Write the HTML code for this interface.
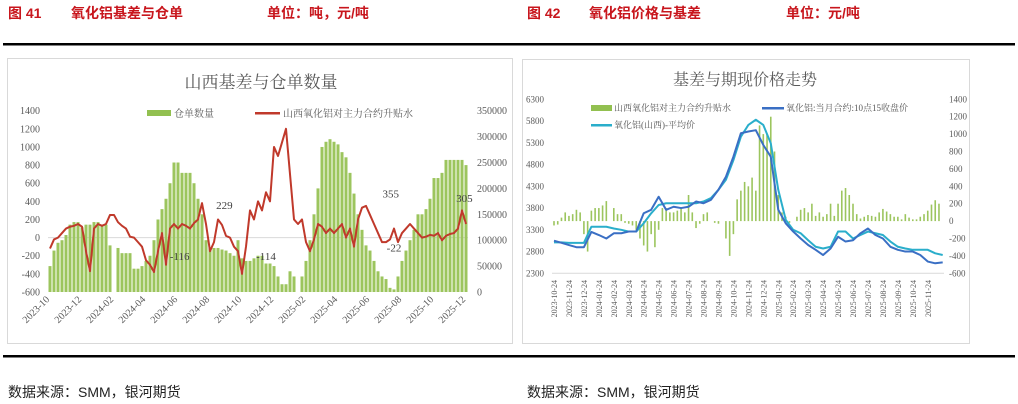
<!DOCTYPE html>
<html><head><meta charset="utf-8"><style>
body{margin:0;width:1018px;height:404px;background:#fff;overflow:hidden;font-family:"Liberation Sans","Noto Sans CJK SC",sans-serif}
svg{position:absolute;left:0;top:0}
</style></head><body>
<svg id="s" width="1018" height="404" viewBox="0 0 1018 404">
<g fill="#c8161d" font-weight="bold" font-size="14" font-family="Liberation Sans,Noto Sans CJK SC,sans-serif">
<text x="8" y="18">图 41</text><text x="71" y="18">氧化铝基差与仓单</text><text x="267" y="18">单位：吨，元/吨</text></g>
<g fill="#c8161d" font-weight="bold" font-size="14" font-family="Liberation Sans,Noto Sans CJK SC,sans-serif">
<text x="527" y="18">图 42</text><text x="589" y="18">氧化铝价格与基差</text><text x="786" y="18">单位：元/吨</text></g>
<rect x="3" y="43" width="1012" height="2.5" fill="#000"/>
<rect x="3" y="355" width="1012" height="2.5" fill="#000"/>
<text x="8" y="397" font-size="14" fill="#222">数据来源：SMM，银河期货</text>
<text x="527" y="397" font-size="14" fill="#222">数据来源：SMM，银河期货</text>
<rect x="7.5" y="58.5" width="505" height="285" fill="#fff" stroke="#d9d9d9"/>
<rect x="522.5" y="59.5" width="447" height="284" fill="#fff" stroke="#d9d9d9"/>
<text x="261" y="88" text-anchor="middle" font-size="17" fill="#595959" font-family="Liberation Serif,Noto Serif CJK SC,serif">山西基差与仓单数量</text>
<text x="745" y="85" text-anchor="middle" font-size="16" fill="#595959" font-family="Liberation Serif,Noto Serif CJK SC,serif">基差与期现价格走势</text>
<g font-size="10" fill="#595959" font-family="Liberation Serif,Noto Serif CJK SC,serif">
<rect x="147" y="110" width="24" height="6" fill="#92c050"/><text x="174" y="117">仓单数量</text>
<rect x="255" y="112" width="25" height="2.5" fill="#c0392b"/><text x="283" y="117">山西氧化铝对主力合约升贴水</text></g>
<g font-size="9" fill="#595959" font-family="Liberation Serif,Noto Serif CJK SC,serif">
<rect x="591" y="105" width="21" height="6" fill="#92c050"/><text x="614" y="111">山西氧化铝对主力合约升贴水</text>
<rect x="762" y="107" width="22" height="2.5" fill="#3a6fc4"/><text x="786" y="111">氧化铝:当月合约:10点15收盘价</text>
<rect x="591" y="124" width="21" height="2.5" fill="#2aaecb"/><text x="614" y="128">氧化铝(山西)-平均价</text></g>
<g id="c1"></g><g id="c2"></g>
</svg>
<script>
// ---- Chart 1 data (weekly, step 0.25 month from 2023-10) ----
const c1Ticks=["2023-10","2023-12","2024-02","2024-04","2024-06","2024-08","2024-10","2024-12","2025-02","2025-04","2025-06","2025-08","2025-10","2025-12"];
const c1Left=[1400,1200,1000,800,600,400,200,0,-200,-400,-600];
const c1Right=[350000,300000,250000,200000,150000,100000,50000,0];
const c1Basis=[-120,-20,0,50,100,120,130,150,120,-150,-370,100,150,130,150,250,250,170,130,100,10,0,-50,-100,-250,-300,-380,-150,50,-300,100,150,100,150,130,100,160,200,380,150,-150,-50,200,140,20,0,-100,-150,-400,-100,300,200,400,300,500,400,1000,900,1050,1200,700,200,150,200,-50,-150,-20,150,120,50,100,50,100,150,0,100,-100,200,330,350,250,150,50,-50,-50,-20,100,-50,50,100,150,100,50,0,10,30,20,50,-30,20,40,50,100,300,150];
const c1Stock=[50000,80000,95000,100000,110000,130000,135000,135000,125000,130000,130000,135000,135000,130000,130000,90000,0,85000,75000,75000,75000,45000,45000,50000,60000,70000,100000,140000,160000,180000,210000,250000,250000,230000,230000,230000,210000,180000,150000,100000,85000,85000,85000,82000,80000,75000,70000,100000,65000,60000,60000,65000,70000,70000,55000,55000,50000,30000,15000,15000,40000,30000,0,30000,60000,100000,150000,200000,280000,290000,295000,290000,285000,270000,260000,230000,190000,150000,120000,90000,80000,60000,40000,30000,25000,8000,5000,30000,60000,80000,100000,120000,150000,150000,160000,180000,220000,220000,230000,255000,255000,255000,255000,255000,245000];
const c1Notes=[["-116",8.1,-116],["229",10.9,229],["-114",13.5,-114],["355",21.3,355],["-22",21.5,-22],["305",25.9,305]];
// ---- Chart 2 data ----
const c2Ticks=["2023-10-24","2023-11-24","2023-12-24","2024-01-24","2024-02-24","2024-03-24","2024-04-24","2024-05-24","2024-06-24","2024-07-24","2024-08-24","2024-09-24","2024-10-24","2024-11-24","2024-12-24","2025-01-24","2025-02-24","2025-03-24","2025-04-24","2025-05-24","2025-06-24","2025-07-24","2025-08-24","2025-09-24","2025-10-24","2025-11-24"];
const c2Left=[6300,5800,5300,4800,4300,3800,3300,2800,2300];
const c2Right=[1400,1200,1000,800,600,400,200,0,-200,-400,-600];
const c2Futures=[3050,3000,2950,2900,2900,3250,3180,3100,3220,3220,3260,3260,3680,3760,4060,3760,3830,3800,3830,3950,3910,3990,4220,4520,4980,5520,5560,5590,5250,4980,3760,3450,3260,3100,2950,2840,2720,2870,3140,3030,3060,3220,3330,3180,3100,2910,2840,2800,2800,2720,2570,2530,2550];
const c2Spot=[3010,3010,3000,3000,3000,3370,3370,3370,3330,3300,3260,3260,3450,3680,3870,3910,3910,3910,3910,3910,3950,4030,4220,4450,4900,5440,5710,5830,5710,5290,4220,3530,3300,3220,3060,2910,2870,2910,3260,3260,3100,3180,3260,3220,3180,3030,2910,2870,2840,2840,2840,2760,2720];
const c2Basis=[-50,-40,40,100,60,80,130,100,-150,-350,120,150,150,180,230,0,150,80,80,-20,-30,-50,-100,-200,-280,-350,-150,-300,-100,150,150,100,100,120,150,100,300,100,-80,-30,80,100,0,-20,-30,0,-200,-400,-150,250,350,450,400,500,350,1100,1000,1000,1200,800,300,100,50,-20,0,50,130,150,100,200,60,100,50,80,200,60,200,350,380,300,200,80,30,50,70,60,50,100,140,110,80,50,50,20,80,40,20,20,50,80,120,190,240,200];

const NS='http://www.w3.org/2000/svg';
function mk(p,t,a){const e=document.createElementNS(NS,t);for(const k in a)e.setAttribute(k,a[k]);p.appendChild(e);return e;}
const serif='Liberation Serif,Noto Serif CJK SC,serif';
// chart 1 axes
const c1=document.getElementById('c1');
const x1=m=>50+m*16, y1L=v=>237.6-v*0.09065, y1R=v=>292-v*181.3/350000;
mk(c1,'line',{x1:48,x2:468,y1:y1L(0),y2:y1L(0),stroke:'#d9d9d9'});
c1Left.forEach(v=>{const t=mk(c1,'text',{x:40,y:y1L(v)+3.5,'text-anchor':'end','font-size':10,fill:'#595959','font-family':serif});t.textContent=v;
});
c1Right.forEach(v=>{const t=mk(c1,'text',{x:477,y:y1R(v)+3.5,'font-size':10,fill:'#595959','font-family':serif});t.textContent=v;
});
c1Ticks.forEach((s,i)=>{const x=x1(i*2),y=300;const t=mk(c1,'text',{x:x,y:y,'text-anchor':'end','font-size':10,fill:'#595959','font-family':serif,transform:`rotate(-45 ${x} ${y})`});t.textContent=s;
});
c1Stock.forEach((v,i)=>{if(!v)return;const x=x1(i*0.25);const r=mk(c1,'rect',{x:x-1.5,y:y1R(v),width:3,height:292-y1R(v),fill:'#9cc55e'});
});
const p1=mk(c1,'polyline',{points:c1Basis.map((v,i)=>x1(i*0.25)+','+y1L(v)).join(' '),fill:'none',stroke:'#c0392b','stroke-width':2,'stroke-linejoin':'round'});

c1Notes.forEach(n=>{const t=mk(c1,'text',{x:x1(n[1]),y:y1L(n[2])+(n[2]<100? 12:-8),'text-anchor':'middle','font-size':11,fill:'#404040','font-family':serif});t.textContent=n[0];
});
// chart 2
const c2=document.getElementById('c2');
const x2=m=>554+m*14.95, y2L=v=>99.3+(6300-v)*174/4000, y2R=v=>99.3+(1400-v)*0.087;
mk(c2,'line',{x1:552,x2:944,y1:273.3,y2:273.3,stroke:'#d9d9d9'});
c2Left.forEach(v=>{const t=mk(c2,'text',{x:544,y:y2L(v)+3,'text-anchor':'end','font-size':9,fill:'#595959','font-family':serif});t.textContent=v;
});
c2Right.forEach(v=>{const t=mk(c2,'text',{x:949,y:y2R(v)+3,'font-size':9,fill:'#595959','font-family':serif});t.textContent=v;
});
c2Ticks.forEach((s,i)=>{const x=x2(i)+3,y=280;const t=mk(c2,'text',{x:x,y:y,'text-anchor':'end','font-size':8,fill:'#595959','font-family':serif,transform:`rotate(-90 ${x} ${y})`});t.textContent=s;
});
c2Basis.forEach((v,i)=>{const x=x2(i*0.25),a=y2R(v),b=y2R(0);const r=mk(c2,'rect',{x:x-0.8,y:Math.min(a,b),width:1.6,height:Math.abs(a-b),fill:'#9cc55e'});
});
const pS=mk(c2,'polyline',{points:c2Spot.map((v,i)=>x2(i*0.5)+','+y2L(v)).join(' '),fill:'none',stroke:'#2aaecb','stroke-width':2,'stroke-linejoin':'round'});

const pF=mk(c2,'polyline',{points:c2Futures.map((v,i)=>x2(i*0.5)+','+y2L(v)).join(' '),fill:'none',stroke:'#3a6fc4','stroke-width':2,'stroke-linejoin':'round'});

</script>
</body></html>
